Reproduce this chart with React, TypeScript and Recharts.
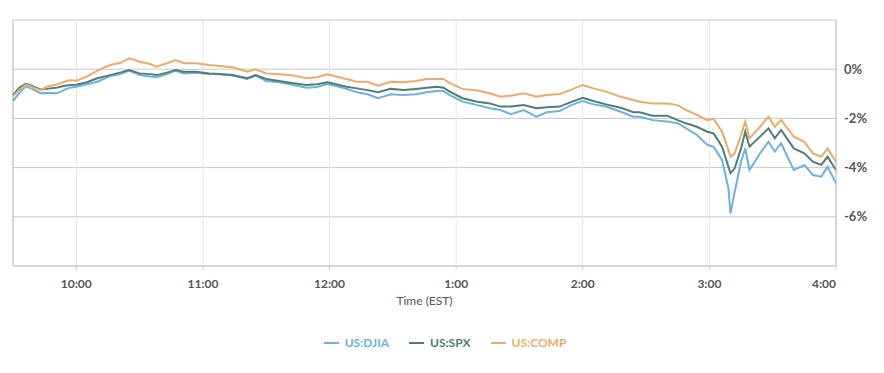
import React from 'react';
import {
  LineChart,
  Line,
  XAxis,
  YAxis,
  CartesianGrid,
  Legend,
  ReferenceLine,
} from 'recharts';

// minutes since 9:30 EST
const minutes = [
  0, 3, 6, 9, 13, 16, 21, 24, 27, 30, 35, 40, 46, 51, 55, 60, 65, 68, 73, 77,
  81, 87, 93, 98, 104, 111, 115, 120, 126, 133, 139, 144, 149, 153, 158, 163,
  168, 173, 179, 185, 191, 196, 201, 204, 207, 213, 220, 226, 231, 236, 242,
  248, 253, 259, 264, 270, 275, 281, 288, 294, 297, 303, 310, 315, 319, 324,
  329, 332, 336, 339, 340, 342, 345, 347, 349, 354, 358, 361, 364, 370, 375,
  379, 383, 386, 390,
];

const djia = [
  -1.29, -0.97, -0.7, -0.8, -0.98, -0.97, -0.98, -0.85, -0.75, -0.71, -0.61,
  -0.51, -0.28, -0.2, -0.06, -0.24, -0.3, -0.33, -0.2, -0.06, -0.17, -0.14,
  -0.2, -0.21, -0.26, -0.4, -0.26, -0.48, -0.53, -0.64, -0.75, -0.72, -0.6,
  -0.68, -0.8, -0.94, -1.02, -1.18, -1.02, -1.05, -1.02, -0.94, -0.89, -0.89,
  -1.05, -1.32, -1.46, -1.59, -1.66, -1.83, -1.66, -1.93, -1.75, -1.7, -1.48,
  -1.29, -1.43, -1.52, -1.73, -1.93, -1.93, -2.07, -2.13, -2.2, -2.4, -2.67,
  -3.08, -3.15, -3.69, -4.84, -5.86, -4.98, -3.76, -3.22, -4.1, -3.42, -2.95,
  -3.35, -3.01, -4.1, -3.89, -4.3, -4.37, -3.96, -4.64,
];

const spx = [
  -1.05, -0.76, -0.6, -0.68, -0.82, -0.8, -0.74, -0.68, -0.64, -0.63, -0.53,
  -0.37, -0.24, -0.13, -0.03, -0.17, -0.2, -0.24, -0.14, -0.03, -0.1, -0.1,
  -0.17, -0.2, -0.24, -0.37, -0.24, -0.4, -0.48, -0.57, -0.64, -0.61, -0.53,
  -0.61, -0.71, -0.78, -0.85, -0.94, -0.8, -0.85, -0.8, -0.75, -0.71, -0.75,
  -0.91, -1.18, -1.32, -1.39, -1.52, -1.52, -1.46, -1.59, -1.55, -1.52, -1.35,
  -1.16, -1.29, -1.43, -1.57, -1.75, -1.75, -1.89, -1.89, -2.07, -2.2, -2.34,
  -2.54, -2.61, -3.15, -3.96, -4.23, -4.03, -3.22, -2.54, -3.15, -2.74, -2.4,
  -2.81, -2.47, -3.22, -3.42, -3.76, -3.89, -3.56, -4.1,
];

const comp = [
  -1.09, -0.85, -0.64, -0.72, -0.85, -0.71, -0.61, -0.52, -0.44, -0.47, -0.3,
  -0.06, 0.17, 0.26, 0.44, 0.3, 0.21, 0.1, 0.24, 0.37, 0.24, 0.24, 0.17, 0.13,
  0.08, -0.1, 0.0, -0.17, -0.21, -0.26, -0.37, -0.33, -0.21, -0.3, -0.4, -0.51,
  -0.51, -0.67, -0.51, -0.53, -0.48, -0.4, -0.4, -0.4, -0.57, -0.8, -0.87,
  -0.98, -1.12, -1.08, -0.98, -1.12, -1.05, -1.01, -0.85, -0.64, -0.78, -0.91,
  -1.12, -1.25, -1.32, -1.39, -1.39, -1.46, -1.66, -1.86, -2.07, -2.02, -2.54,
  -3.28, -3.56, -3.42, -2.67, -2.13, -2.81, -2.34, -1.93, -2.34, -2.07, -2.74,
  -2.95, -3.42, -3.56, -3.22, -3.76,
];

const hourTicks = [30, 90, 150, 210, 270, 330, 390];
const hourLabels = ['10:00', '11:00', '12:00', '1:00', '2:00', '3:00', '4:00'];
const pctTicks = [-8, -6, -4, -2, 0, 2];

const series = [
  { key: 'djia', name: 'US:DJIA', color: '#6cb2dd' },
  { key: 'spx', name: 'US:SPX', color: '#507e77' },
  { key: 'comp', name: 'US:COMP', color: '#e8ac6b' },
];

const data = minutes.map((m, i) => ({
  t: m,
  djia: djia[i],
  spx: spx[i],
  comp: comp[i],
}));

const FONT = 'Lato, "Open Sans", sans-serif';

const TimeTick = (props: any) => {
  const { x, y, payload } = props;
  const idx = hourTicks.indexOf(payload.value);
  const last = idx === hourTicks.length - 1;
  return (
    <text
      x={x}
      y={y}
      dy="0.71em"
      textAnchor={last ? 'end' : 'middle'}
      fill="#555"
      fontSize={12}
      fontWeight={700}
      fontFamily={FONT}
    >
      {hourLabels[idx]}
    </text>
  );
};

const LegendContent = () => (
  <div
    style={{
      display: 'flex',
      justifyContent: 'center',
      alignItems: 'center',
      fontFamily: FONT,
      fontSize: 12,
      fontWeight: 700,
      paddingLeft: 26,
    }}
  >
    {series.map((s) => (
      <div key={s.key} style={{ display: 'flex', alignItems: 'center', marginRight: 20 }}>
        <svg width={15} height={10} style={{ marginRight: 6 }}>
          <line x1={0} y1={5} x2={15} y2={5} stroke={s.color} strokeWidth={2} />
        </svg>
        <span style={{ color: s.color }}>{s.name}</span>
      </div>
    ))}
  </div>
);

export default function App() {
  return (
    <div style={{ position: 'absolute', left: 0, top: 0, background: '#fff' }}>
      <LineChart
        width={884}
        height={373}
        data={data}
        margin={{ top: 20, right: 0, left: 13, bottom: 67 }}
        style={{ fontFamily: FONT }}
      >
        <CartesianGrid vertical={false} stroke="#c8c8c8" />
        <CartesianGrid horizontal={false} stroke="#e6e6e6" />
        <XAxis
          dataKey="t"
          type="number"
          domain={[0, 390]}
          ticks={hourTicks}
          tick={<TimeTick />}
          tickSize={4}
          tickMargin={9}
          stroke="#c3ccd5"
          height={40}
          label={{
            value: 'Time (EST)',
            position: 'insideBottom',
            offset: 1,
            fill: '#555',
            fontSize: 12,
            fontFamily: FONT,
          }}
        />
        <YAxis
          orientation="right"
          type="number"
          domain={[-8, 2]}
          ticks={pctTicks}
          width={48}
          tickLine={false}
          stroke="#bbbbbb"
          tick={{ fill: '#555', fontSize: 13, fontWeight: 700 }}
          tickFormatter={(v: number) => (v === 2 || v === -8 ? '' : `${v}%`)}
        />
        <ReferenceLine x={0} stroke="#bbbbbb" />
        <Legend
          verticalAlign="middle"
          align="center"
          layout="horizontal"
          wrapperStyle={{ top: 335, left: 0, width: 884 }}
          content={<LegendContent />}
        />
        {series.map((s) => (
          <Line
            key={s.key}
            type="linear"
            dataKey={s.key}
            name={s.name}
            stroke={s.color}
            strokeWidth={2}
            dot={false}
            isAnimationActive={false}
          />
        ))}
      </LineChart>
    </div>
  );
}
